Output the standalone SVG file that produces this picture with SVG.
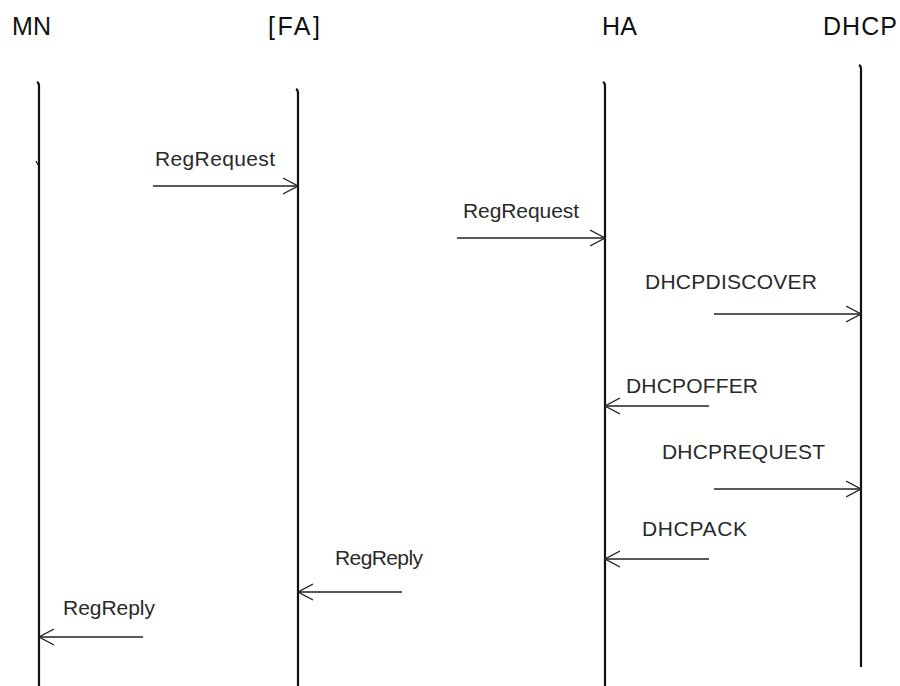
<svg xmlns="http://www.w3.org/2000/svg" width="900" height="686" viewBox="0 0 900 686">
<style>
.hdr{font-family:"Liberation Sans",Arial,sans-serif;font-size:25px;fill:#111}
.lbl{font-family:"Liberation Sans",Arial,sans-serif;font-size:21px;fill:#2a2a2a}
.life{stroke:#111;stroke-width:2.2;fill:none}
.msg{stroke:#222;stroke-width:1.4;fill:none}
</style>
<defs>
<marker id="open" viewBox="0 0 16 18" refX="15" refY="9" markerWidth="16" markerHeight="18" markerUnits="userSpaceOnUse" orient="auto">
<path d="M0,1 L15,9 L0,17" fill="none" stroke="#222" stroke-width="1.3"/>
</marker>
</defs>
<rect width="900" height="686" fill="#fff"/>
<g id="MN">
<text class="hdr" x="12" y="35" textLength="39">MN</text>
<path class="life" d="M37,82 Q39,83 39,86 L39,686"/>
<path d="M36,161 L38,165" stroke="#222" stroke-width="1.2"/>
</g>
<g id="FA">
<text class="hdr" x="268" y="35" textLength="52">[FA]</text>
<path class="life" d="M296,89 Q298,90 298,93 L298,686"/>
</g>
<g id="HA">
<text class="hdr" x="602" y="35" textLength="35">HA</text>
<path class="life" d="M603,82 Q605,83 605,86 L605,686"/>
</g>
<g id="DHCP">
<text class="hdr" x="823" y="35" textLength="74">DHCP</text>
<path class="life" d="M859,65 Q861,66 861,69 L861,667"/>
</g>
<g id="connectors">
<line class="msg" x1="153" y1="186" x2="298" y2="186" marker-end="url(#open)"/>
<text class="lbl" x="155" y="166" textLength="120">RegRequest</text>
<line class="msg" x1="457" y1="238" x2="605" y2="238" marker-end="url(#open)"/>
<text class="lbl" x="463" y="218" textLength="116">RegRequest</text>
<line class="msg" x1="714" y1="314" x2="861" y2="314" marker-end="url(#open)"/>
<text class="lbl" x="645" y="289" textLength="172">DHCPDISCOVER</text>
<line class="msg" x1="709" y1="406" x2="605" y2="406" marker-end="url(#open)"/>
<text class="lbl" x="626" y="393" textLength="132">DHCPOFFER</text>
<line class="msg" x1="714" y1="489" x2="861" y2="489" marker-end="url(#open)"/>
<text class="lbl" x="662" y="459" textLength="163">DHCPREQUEST</text>
<line class="msg" x1="709" y1="559" x2="605" y2="559" marker-end="url(#open)"/>
<text class="lbl" x="642" y="536" textLength="105">DHCPACK</text>
<line class="msg" x1="402" y1="592" x2="298" y2="592" marker-end="url(#open)"/>
<text class="lbl" x="335" y="565" textLength="88">RegReply</text>
<line class="msg" x1="143" y1="637" x2="39" y2="637" marker-end="url(#open)"/>
<text class="lbl" x="63" y="615" textLength="92">RegReply</text>
</g>
</svg>
